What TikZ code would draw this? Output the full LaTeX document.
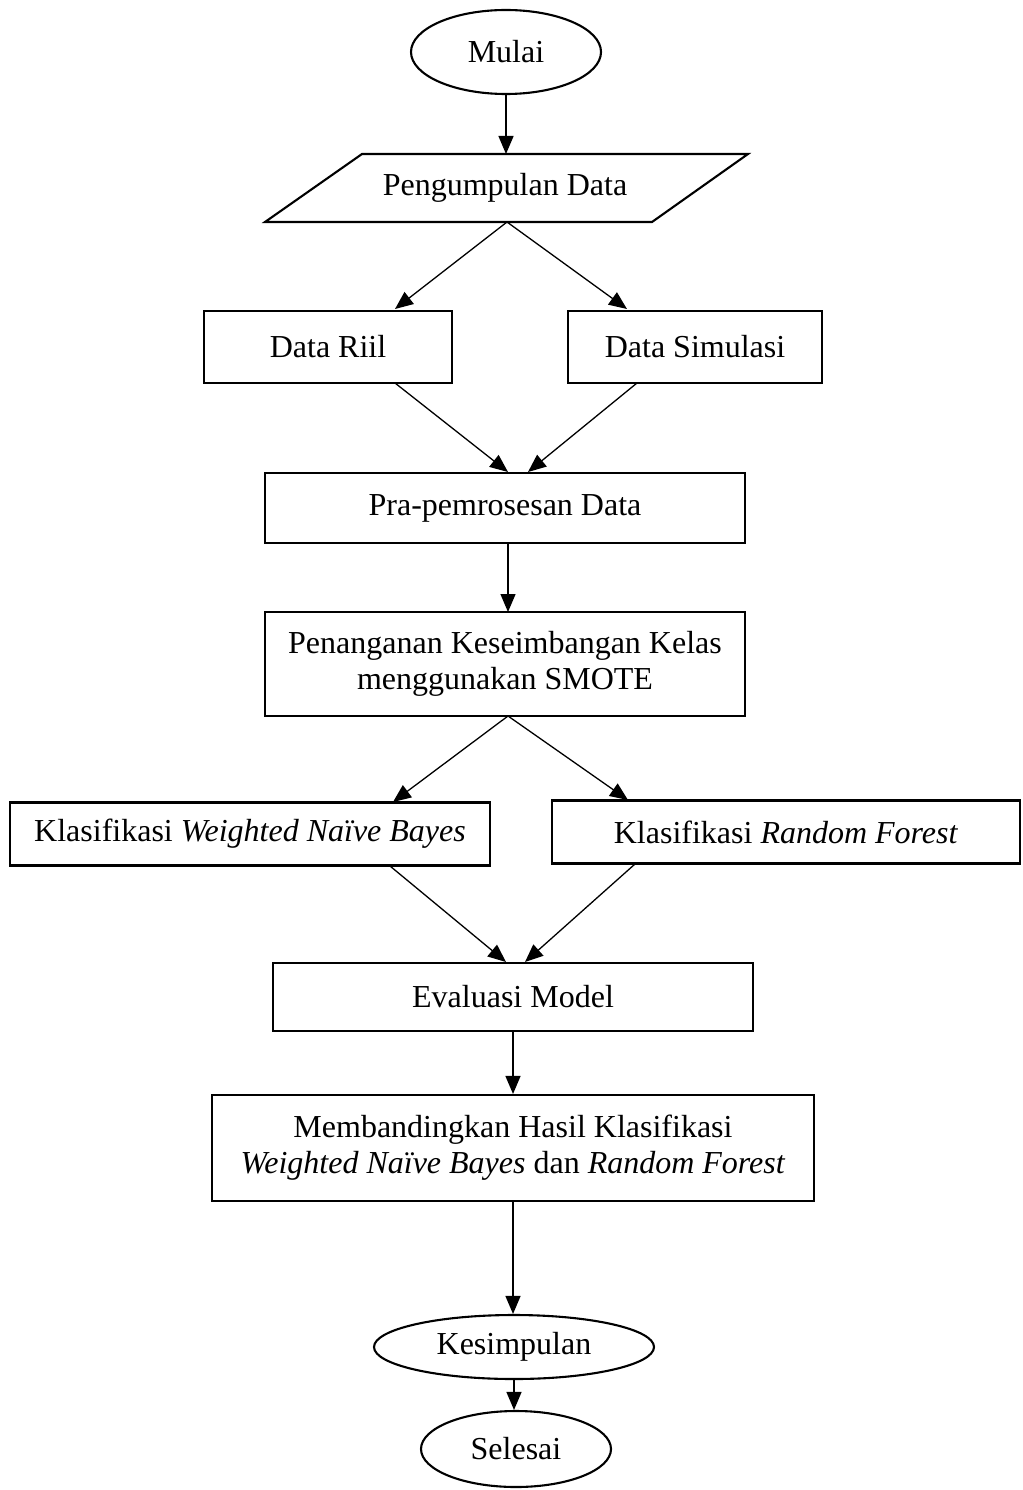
\documentclass[tikz,border=0pt]{standalone}
\usepackage{fontspec}
\setmainfont{Liberation Serif}
\usetikzlibrary{shapes.geometric,arrows.meta}
\begin{document}
\begin{tikzpicture}[x=1pt,y=-1pt,
  txt/.style={font=\fontsize{32}{36}\selectfont},
  box/.style={txt, draw, line width=2.1pt, rectangle, inner sep=0pt, align=center},
  term/.style={txt, draw, line width=2.1pt, ellipse, inner sep=0pt},
  conn/.style={line width=1.3pt, -{Triangle[length=18pt,width=15pt]}}]
\useasboundingbox (0,0) rectangle (1022,1490);

% terminals
\node[term, minimum width=190pt, minimum height=84pt] (mulai) at (506,52) {Mulai};
\node[term, minimum width=280pt, minimum height=64pt] (kes) at (514,1347) {Kesimpulan};
\node[term, minimum width=190pt, minimum height=76pt] (sel) at (516,1449) {Selesai};

% parallelogram
\coordinate (pTL) at (362,154);
\coordinate (pTR) at (748,154);
\coordinate (pBR) at (652,222);
\coordinate (pBL) at (265,222);
\draw[line width=2.1pt, line join=miter] (pTL) -- (pTR) -- (pBR) -- (pBL) -- cycle;
\node[txt, inner sep=0pt] (peng) at (505,188) {Pengumpulan Data};
\coordinate (pengtop) at (506,154);
\coordinate (pengbot) at (507,222);

% boxes
\node[box, minimum width=248pt, minimum height=72pt] (riil) at (328,347) {Data Riil};
\node[box, minimum width=254pt, minimum height=72pt] (sim) at (695,347) {Data Simulasi};
\node[box, minimum width=480pt, minimum height=70pt] (pra) at (505,508) {Pra-pemrosesan Data};
\node[box, minimum width=480pt, minimum height=104pt] (pen) at (505,664) {Penanganan Keseimbangan Kelas\\menggunakan SMOTE};
\node[box, minimum width=480pt, minimum height=63pt] (wnb) at (250,834) {Klasifikasi \textit{Weighted Naïve Bayes}};
\node[box, minimum width=468pt, minimum height=63pt] (rf) at (786,832) {Klasifikasi \textit{Random Forest}};
\node[box, minimum width=480pt, minimum height=68pt] (eval) at (513,997) {Evaluasi Model};
\node[box, minimum width=602pt, minimum height=106pt] (mem) at (513,1148) {Membandingkan Hasil Klasifikasi\\\textit{Weighted Naïve Bayes} dan \textit{Random Forest}};

% connector end points
\coordinate (riilin) at (395,309);
\coordinate (simin) at (627,309);
\coordinate (riilout) at (395,383);
\coordinate (simout) at (637,383);
\coordinate (prainL) at (508,472);
\coordinate (prainR) at (528,472);
\coordinate (praout) at (508,543);
\coordinate (penin) at (508,612);
\coordinate (penout) at (508,716);
\coordinate (wnbin) at (393,802);
\coordinate (rfin) at (628,800);
\coordinate (wnbout) at (390,866);
\coordinate (rfout) at (635,864);
\coordinate (evalinL) at (506,962);
\coordinate (evalinR) at (525,962);

\draw[conn] (mulai.south) -- (mulai.south |- pengtop);
\draw[conn] (pengbot) -- (riilin);
\draw[conn] (pengbot) -- (simin);
\draw[conn] (riilout) -- (prainL);
\draw[conn] (simout) -- (prainR);
\draw[conn] (praout) -- (penin);
\draw[conn] (penout) -- (wnbin);
\draw[conn] (penout) -- (rfin);
\draw[conn] (wnbout) -- (evalinL);
\draw[conn] (rfout) -- (evalinR);
\draw[conn] (eval.south) -- (mem.north);
\draw[conn] (mem.south) -- (mem.south |- kes.north);
\draw[conn] (kes.south) -- (kes.south |- sel.north);
\end{tikzpicture}
\end{document}
